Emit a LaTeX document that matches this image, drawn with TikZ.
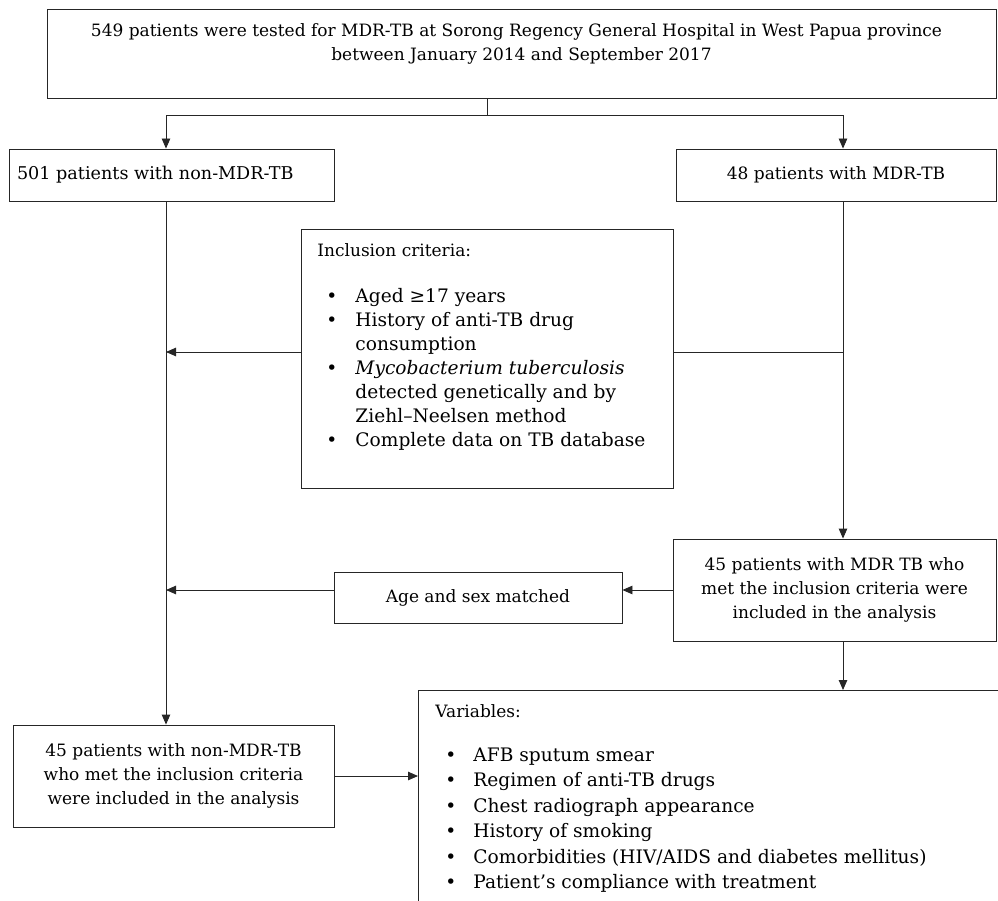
\documentclass[tikz,border=0pt]{standalone}
\usepackage{fontspec}
\setmainfont{DejaVu Serif}
\usetikzlibrary{arrows.meta}
\tikzset{
  box/.style={draw=black!85, line width=0.9pt, inner sep=0pt, align=center,
    font=\fontsize{17}{24}\selectfont},
  arr/.style={draw=black!85, line width=0.9pt, -{Triangle[length=10pt,width=8.5pt]}},
  ln/.style={draw=black!85, line width=0.9pt},
}
\newcommand\txtline[2]{\par\noindent\hspace*{#1}#2}
\newcommand\bulline[3]{\par\noindent\hspace*{#1}\makebox[#2][l]{\textbullet}#3}
\begin{document}
\begin{tikzpicture}[x=1pt,y=-1pt]
\useasboundingbox (0,0) rectangle (998,901);
\clip (0,0) rectangle (998,901);
\fill[white] (0,0) rectangle (998,901);

% boxes
\node[box, minimum width=949pt, minimum height=89pt] (top) at (521.5,53.5)
  {549 patients were tested for MDR-TB at Sorong Regency General Hospital in West Papua province\hspace*{10pt}\\between January 2014 and September 2017\hspace*{12pt}\\[-8pt]\strut};
\node[box, minimum width=325pt, minimum height=52pt, inner xsep=8pt, text width=309pt, align=left] (n501) at (171.5,175)
  {\fontsize{17.6}{24}\selectfont 501 patients with non-MDR-TB};
\node[box, minimum width=320pt, minimum height=52pt] (n48) at (836,175)
  {48 patients with MDR-TB};
\node[box, anchor=north west, align=left] (incl) at (301,229)
  {\parbox[t][259pt][t]{372pt}{\fontsize{17}{24}\selectfont
    \txtline{16pt}{\rule{0pt}{27pt}Inclusion criteria:}\par\vspace{22pt}
    \fontsize{18.6}{24}\selectfont
    \bulline{25pt}{29pt}{Aged ≥17 years}
    \bulline{25pt}{29pt}{History of anti-TB drug}
    \txtline{54pt}{consumption}
    \bulline{25pt}{29pt}{\textit{Mycobacterium tuberculosis}}
    \txtline{54pt}{detected genetically and by}
    \txtline{54pt}{Ziehl–Neelsen method}
    \bulline{25pt}{29pt}{Complete data on TB database}}};
\node[box, minimum width=323pt, minimum height=102pt] (mdr) at (834.5,590)
  {45 patients with MDR TB who\\met the inclusion criteria were\\included in the analysis};
\node[box, minimum width=288pt, minimum height=51pt] (age) at (478,597.5)
  {Age and sex matched};
\node[box, minimum width=321pt, minimum height=102pt] (bl) at (173.5,776)
  {45 patients with non-MDR-TB\\who met the inclusion criteria\\were included in the analysis};
\node[box, anchor=north west, align=left] (var) at (418,690)
  {\parbox[t][240pt][t]{620pt}{\fontsize{17}{25.4}\selectfont
    \txtline{17pt}{\rule{0pt}{27pt}Variables:}\par\vspace{18.6pt}
    \fontsize{18.6}{25.4}\selectfont
    \bulline{27pt}{28pt}{AFB sputum smear}
    \bulline{27pt}{28pt}{Regimen of anti-TB drugs}
    \bulline{27pt}{28pt}{Chest radiograph appearance}
    \bulline{27pt}{28pt}{History of smoking}
    \bulline{27pt}{28pt}{Comorbidities (HIV/AIDS and diabetes mellitus)}
    \bulline{27pt}{28pt}{Patient’s compliance with treatment}}};

% junctions
\coordinate (split) at (487,115);
\coordinate (sL) at (166,115);
\coordinate (sR) at (843,115);
\coordinate (cy) at (0,352);

% connectors
\draw[ln] (top.south -| split) -- (split);
\draw[arr] (split) -- (sL) -- (sL |- n501.north);
\draw[arr] (split) -- (sR) -- (sR |- n48.north);
\draw[arr] (sL |- n501.south) -- (sL |- bl.north);
\draw[arr] (sR |- n48.south) -- (sR |- mdr.north);
\draw[arr] (incl.west |- cy) -- (sL |- cy);
\draw[ln] (incl.east |- cy) -- (sR |- cy);
\draw[arr] (mdr.west) -- (mdr.west -| age.east);
\draw[arr] (age.west |- mdr.west) -- (sL |- mdr.west);
\draw[arr] (sR |- mdr.south) -- (sR |- var.north);
\draw[arr] (bl.east) -- (bl.east -| var.west);
\end{tikzpicture}
\end{document}
